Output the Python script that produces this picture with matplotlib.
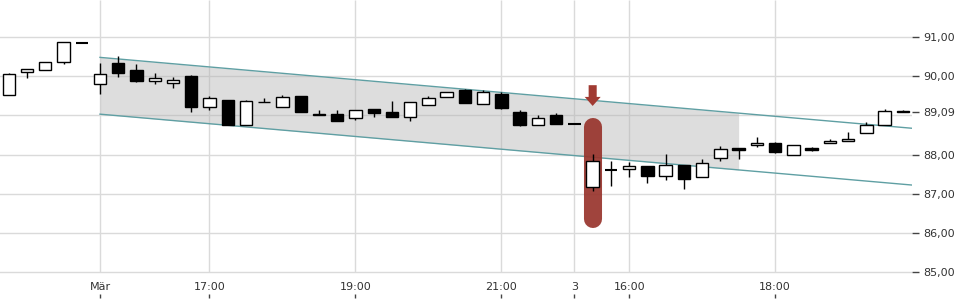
import matplotlib
matplotlib.use('Agg')
import matplotlib.pyplot as plt
from matplotlib.patches import Rectangle
import numpy as np

# ---- data -----------------------------------------------------------------
opens  = [89.51, 90.10, 90.15, 90.37, 90.84, 89.79, 90.34, 90.16, 89.87, 89.82,
          90.00, 89.21, 89.39, 88.76, 89.35, 89.21, 89.49, 89.03, 89.03, 88.92,
          89.16, 89.08, 88.95, 89.26, 89.46, 89.65, 89.30, 89.55, 89.08, 88.75,
          89.00, 88.79, 87.16, 87.60, 87.62, 87.71, 87.44, 87.72, 87.42, 87.90,
          88.17, 88.24, 88.29, 88.00, 88.17, 88.29, 88.34, 88.54, 88.75, 89.11]
highs  = [90.07, 90.18, 90.35, 90.86, 90.84, 90.34, 90.51, 90.31, 90.08, 89.99,
          90.04, 89.50, 89.39, 89.39, 89.44, 89.52, 89.49, 89.13, 89.14, 89.13,
          89.16, 89.37, 89.33, 89.49, 89.59, 89.67, 89.65, 89.59, 89.13, 89.00,
          89.06, 88.79, 88.01, 87.83, 87.80, 87.71, 88.01, 87.72, 87.89, 88.22,
          88.17, 88.44, 88.31, 88.24, 88.20, 88.40, 88.57, 88.83, 89.16, 89.13]
lows   = [89.51, 89.96, 90.15, 90.32, 90.84, 89.55, 89.99, 89.85, 89.80, 89.71,
          89.09, 89.14, 88.76, 88.76, 89.33, 89.21, 89.08, 89.00, 88.86, 88.89,
          88.97, 88.97, 88.86, 89.26, 89.46, 89.32, 89.30, 89.17, 88.74, 88.75,
          88.77, 88.79, 87.08, 87.20, 87.43, 87.28, 87.36, 87.13, 87.42, 87.84,
          87.89, 88.20, 88.04, 87.99, 88.10, 88.29, 88.34, 88.54, 88.75, 89.08]
closes = [90.05, 90.18, 90.35, 90.86, 90.84, 90.05, 90.09, 89.88, 89.95, 89.89,
          89.22, 89.44, 88.76, 89.37, 89.33, 89.46, 89.08, 89.00, 88.86, 89.13,
          89.07, 88.97, 89.33, 89.44, 89.59, 89.32, 89.59, 89.20, 88.76, 88.92,
          88.77, 88.79, 87.83, 87.60, 87.71, 87.46, 87.72, 87.38, 87.78, 88.13,
          88.11, 88.29, 88.06, 88.24, 88.12, 88.35, 88.40, 88.75, 89.11, 89.09]

xtick_pos = [5, 11, 19, 27, 31, 34, 42]
xtick_labels = ['Mär', '17:00', '19:00', '21:00', '3', '16:00', '18:00']
grid_vals = [85, 86, 87, 88, 89, 90, 91]
ytick_vals = [85, 86, 87, 88, 89.09, 90, 91]
ytick_labels = ['85,00', '86,00', '87,00', '88,00', '89,09', '90,00', '91,00']

# trend channel (start index, end index, upper/lower values at ends)
chan_x = [5, 49.5]
chan_upper = [90.48, 88.67]
chan_lower = [89.03, 87.22]
chan_fill_end = 40

# highlighted candle
mark_idx = 32
mark_bar = [86.35, 88.70]
mark_arrow = [89.77, 89.24]

# ---- figure ---------------------------------------------------------------
fig = plt.figure(figsize=(9.6, 3), dpi=100)
ax = fig.add_axes([0, 2 / 300, 912 / 960, 298 / 300])
ylim = (84.336, 91.945)
ax.set_xlim(-0.48, 49.5)
ax.set_ylim(*ylim)
for s in ax.spines.values():
    s.set_visible(False)

grid_c = '#dadada'
for g in grid_vals:
    ax.axhline(g, color=grid_c, lw=1, zorder=0.5)
ax.vlines(xtick_pos, 85, ylim[1], color=grid_c, lw=1, zorder=0.5)

ax.yaxis.tick_right()
ax.set_yticks(ytick_vals, ytick_labels)
ax.tick_params(axis='y', which='both', left=False, labelleft=False,
               right=True, labelright=True, length=5, width=1,
               color='#444444', labelsize=8, labelcolor='#333333', pad=3)
ax.set_xticks(xtick_pos, xtick_labels)
ax.tick_params(axis='x', direction='in', length=3, width=1, color='#444444',
               labelsize=8, labelcolor='#333333', pad=-11.5)

# channel
xs = np.array(chan_x, dtype=float)
up = np.array(chan_upper)
lo = np.array(chan_lower)
fx = np.array([chan_x[0], chan_fill_end], dtype=float)
fu = np.interp(fx, xs, up)
fl = np.interp(fx, xs, lo)
ax.fill_between(fx, fl, fu, color='#b0b0b0', alpha=0.42, lw=0, zorder=1)
ax.plot(xs, up, color='#5f9fa3', lw=1, zorder=2)
ax.plot(xs, lo, color='#5f9fa3', lw=1, zorder=2)

# highlight
ax.plot([mark_idx, mark_idx], mark_bar, color='#98342c', lw=13,
        solid_capstyle='round', alpha=0.92, zorder=2.5)
ax.annotate('', xy=(mark_idx, mark_arrow[1]), xytext=(mark_idx, mark_arrow[0]),
            arrowprops=dict(arrowstyle='simple,head_width=1.15,head_length=0.65,tail_width=0.58',
                            color='#a03a32', shrinkA=0, shrinkB=0, lw=0),
            zorder=2.5)

# candles
w = 0.68
for i, (o, h, l, c) in enumerate(zip(opens, highs, lows, closes)):
    ax.vlines(i, l, h, color='black', lw=1, zorder=3)
    if abs(c - o) < 1e-9:
        ax.hlines(o, i - w / 2, i + w / 2, color='black', lw=1.5, zorder=4)
    else:
        fc = 'white' if c > o else 'black'
        ax.add_patch(Rectangle((i - w / 2, min(o, c)), w, abs(c - o),
                               facecolor=fc, edgecolor='black', lw=1, zorder=4))

fig.savefig('out.png', dpi=100)
